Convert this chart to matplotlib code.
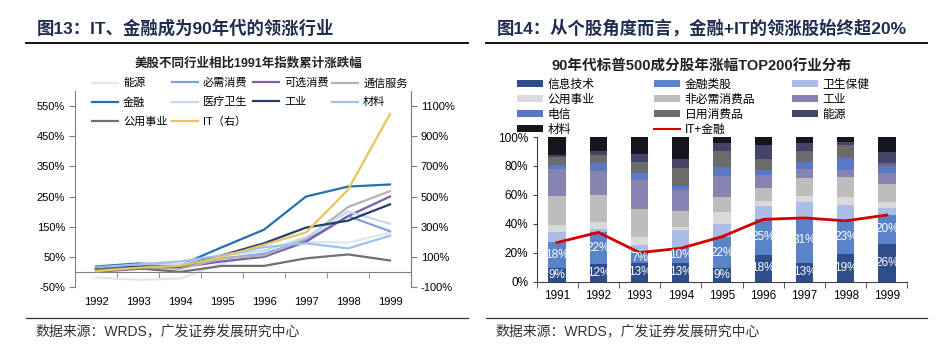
import matplotlib.pyplot as plt
from matplotlib.lines import Line2D
from matplotlib.patches import Patch

plt.rcParams['font.family'] = ['Liberation Sans', 'Noto Sans CJK SC']

W, H = 945, 353


def fx(px):
    return px / W


def fy(py):
    return 1 - py / H


# ---- left chart data: cumulative change vs 1991 (%)
years_l = [1992, 1993, 1994, 1995, 1996, 1997, 1998, 1999]
energy = [-19, -26, -22, 28, 60, 100, 97, 130]
staples_l = [8, 20, 18, 45, 60, 105, 185, 135]
discretionary = [0, 10, 15, 35, 50, 100, 185, 250]
telecom_l = [5, 15, 10, 45, 55, 110, 215, 268]
finance = [18, 28, 22, 82, 140, 250, 283, 290]
health = [5, 20, 25, 55, 70, 115, 200, 160]
industrial = [12, 18, 18, 55, 95, 147, 170, 224]
materials_l = [15, 25, 35, 55, 82, 95, 78, 120]
utilities = [10, 12, 0, 20, 20, 45, 58, 38]
it_right = [5, 28, 40, 100, 180, 262, 545, 1047]

left_names = ['能源', '必需消费', '可选消费', '通信服务', '金融', '医疗卫生', '工业', '材料', '公用事业']
left_series = [energy, staples_l, discretionary, telecom_l, finance, health, industrial, materials_l, utilities]
left_colors = ['#dbe6f7', '#7da3dd', '#7b5fad', '#b4b4b4', '#2470b0', '#c9d7ef', '#243e6e', '#9cc3ec', '#707070']

# ---- right chart data: sector share of top-200 gainers (%)
years_r = ['1991', '1992', '1993', '1994', '1995', '1996', '1997', '1998', '1999']
r_it = [9, 12, 13, 13, 9, 18, 13, 19, 26]
r_fin = [18, 22, 7, 10, 22, 25, 31, 23, 20]
r_health = [7, 2.3, 5, 12.5, 8.5, 9.2, 11, 10.7, 4.8]
r_util = [5, 4.7, 6, 2.1, 8.3, 3.8, 4.4, 6, 4.4]
r_disc = [20, 19, 19, 11.1, 10.9, 8.4, 12, 13.8, 12]
r_indus = [18.6, 16.7, 20, 14.6, 14.5, 9.6, 6.4, 4.5, 7.6]
r_telecom = [2.8, 5.1, 5, 2.7, 6.2, 3, 4.9, 8.5, 5.2]
r_staples = [6, 5.7, 7.4, 12.8, 11.1, 7.8, 7.6, 8.7, 1.8]
r_energy = [1.4, 2.8, 5.8, 5.7, 5.1, 9.7, 5.7, 2.6, 7.8]
r_materials = [12.2, 9.7, 11.8, 15.5, 4.4, 5.5, 4, 3.2, 10.4]
it_fin = [27, 34, 20, 23, 31, 43, 44, 42, 46]

right_names = ['信息技术', '金融类股', '卫生保健', '公用事业', '非必需消费品', '工业',
               '电信', '日用消费品', '能源', '材料']
right_series = [r_it, r_fin, r_health, r_util, r_disc, r_indus, r_telecom, r_staples, r_energy, r_materials]
right_colors = ['#2e4d8a', '#5b84c8', '#a9bde6', '#d9d9d9', '#bdbdbd', '#8784b4',
                '#5a78c4', '#6b6b6b', '#45456a', '#16161f']

navy = '#1f2d4f'
spine_c = '#808080'

fig = plt.figure(figsize=(9.45, 3.53), dpi=100)

# ================= left chart =================
ax = fig.add_axes([fx(75), fy(287), fx(411) - fx(75), fy(91) - fy(287)])
handles_l = []
for name, vals, c in zip(left_names, left_series, left_colors):
    h, = ax.plot(years_l, vals, color=c, lw=1.6, label=name)
    handles_l.append(h)

ax.set_xlim(1991.5, 1999.5)
ax.set_ylim(-50, 600)
ax.set_yticks(range(-50, 600, 100))
ax.set_yticklabels([f'{v}%' for v in range(-50, 600, 100)])
ax.set_xticks(years_l)
ax.set_xticks([y - 0.5 for y in years_l] + [1999.5], minor=True)
ax.spines['top'].set_visible(False)
ax.spines['bottom'].set_position(('data', 0))
for s in ['left', 'right', 'bottom']:
    ax.spines[s].set_color(spine_c)
ax.tick_params(axis='x', which='major', length=0, pad=18, labelsize=8)
ax.tick_params(axis='x', which='minor', length=4, color=spine_c)
ax.tick_params(axis='y', length=4, color=spine_c, labelsize=8, pad=3)

ax2 = ax.twinx()
h_it, = ax2.plot(years_l, it_right, color='#e8c55c', lw=1.6, label='IT（右）')
handles_l.append(h_it)
ax2.set_ylim(-100, 1200)
ax2.set_yticks(range(-100, 1200, 200))
ax2.set_yticklabels([f'{v}%' for v in range(-100, 1200, 200)])
for s in ['top', 'bottom', 'left']:
    ax2.spines[s].set_visible(False)
ax2.spines['right'].set_color(spine_c)
ax2.tick_params(axis='y', length=4, color=spine_c, labelsize=8, pad=3)

# legend laid out column by column (fixed column positions)
col_x_l = [92, 172, 253, 332]
for ci, x0 in enumerate(col_x_l):
    hs = handles_l[ci::4]
    fig.legend(handles=hs, labels=[h.get_label() for h in hs], loc='upper left',
               bbox_to_anchor=(fx(x0), fy(78)), frameon=False, fontsize=8,
               borderpad=0, borderaxespad=0, handlelength=2.3, handletextpad=0.5,
               labelspacing=0.8)

fig.text(fx(249), fy(64), '美股不同行业相比1991年指数累计涨跌幅', fontsize=9,
         fontweight='bold', ha='center', va='center', color='#222222')

# ================= right chart =================
ax3 = fig.add_axes([fx(536.5), fy(281.5), fx(907.5) - fx(536.5), fy(137) - fy(281.5)])
xs = list(range(len(years_r)))
bottom = [0] * len(xs)
handles_r = []
for name, vals, c in zip(right_names, right_series, right_colors):
    ax3.bar(xs, vals, width=0.42, bottom=bottom, color=c, edgecolor='none')
    handles_r.append(Patch(facecolor=c, label=name))
    bottom = [b + v for b, v in zip(bottom, vals)]

for i in xs:
    ax3.text(i, r_it[i] / 2, f'{r_it[i]}%', color='white', ha='center', va='center', fontsize=8.5)
    ax3.text(i, r_it[i] + r_fin[i] / 2, f'{r_fin[i]}%', color='white', ha='center', va='center',
             fontsize=8.5)

ax3.plot(xs, it_fin, color='#d40000', lw=2)
handles_r.append(Line2D([], [], color='#d40000', lw=1.5, label='IT+金融'))

ax3.set_xlim(-0.5, 8.5)
ax3.set_ylim(0, 100)
ax3.set_yticks(range(0, 101, 20))
ax3.set_yticklabels([f'{v}%' for v in range(0, 101, 20)])
ax3.set_xticks(xs)
ax3.set_xticklabels(years_r)
ax3.set_xticks([i - 0.5 for i in xs] + [8.5], minor=True)
ax3.spines['top'].set_visible(False)
ax3.spines['right'].set_visible(False)
ax3.spines['left'].set_color('#404040')
ax3.spines['bottom'].set_color('#404040')
ax3.tick_params(axis='x', which='major', length=0, pad=6, labelsize=8.5)
ax3.tick_params(axis='x', which='minor', length=4, color='#404040')
ax3.tick_params(axis='y', length=3, color='#404040', labelsize=8.5, pad=3)

col_x_r = [517, 654, 792]
for ci, x0 in enumerate(col_x_r):
    hs = handles_r[ci::3]
    fig.legend(handles=hs, labels=[h.get_label() for h in hs], loc='upper left',
               bbox_to_anchor=(fx(x0), fy(79)), frameon=False, fontsize=8.5,
               borderpad=0, borderaxespad=0, handlelength=2.2, handleheight=0.5,
               handletextpad=0.4, labelspacing=0.25)

fig.text(fx(702), fy(67), '90年代标普500成分股年涨幅TOP200行业分布', fontsize=10.5,
         fontweight='bold', ha='center', va='center', color='#222222')

# ================= titles, rules, sources =================
fig.text(fx(37), fy(28), '图13：IT、金融成为90年代的领涨行业', fontsize=12.5,
         fontweight='bold', color=navy, ha='left', va='center')
fig.text(fx(497), fy(28), '图14：从个股角度而言，金融+IT的领涨股始终超20%', fontsize=12.5,
         fontweight='bold', color=navy, ha='left', va='center')

for x0, x1 in [(26, 468), (486, 927)]:
    fig.add_artist(Line2D([fx(x0), fx(x1)], [fy(43), fy(43)], color='black', lw=1.3,
                          transform=fig.transFigure))
    fig.add_artist(Line2D([fx(x0), fx(x1)], [fy(318), fy(318)], color='#333333', lw=0.9,
                          transform=fig.transFigure))

for x0 in [35, 495]:
    fig.text(fx(x0), fy(331), '数据来源：WRDS，广发证券发展研究中心', fontsize=10,
             color='#333333', ha='left', va='center')

fig.savefig('out.png', dpi=100)
